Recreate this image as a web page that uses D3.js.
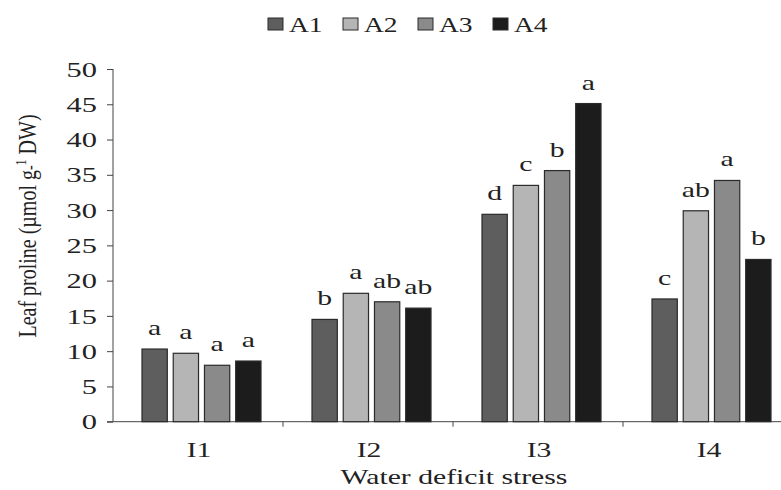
<!DOCTYPE html>
<html>
<head>
<meta charset="utf-8">
<script src="https://cdn.jsdelivr.net/npm/d3@7"></script>
<style>
  body { margin: 0; background: #fff; }
  svg { display: block; font-family: "Liberation Serif", "DejaVu Serif", serif; }
</style>
</head>
<body>
<svg width="781" height="490"></svg>
<script>
// data
const groups = ["I1", "I2", "I3", "I4"];
const series = ["A1", "A2", "A3", "A4"];
const A1 = [10.3, 14.5, 29.4, 17.4];
const A2 = [9.7, 18.2, 33.5, 29.9];
const A3 = [8.0, 17.0, 35.6, 34.2];
const A4 = [8.6, 16.1, 45.1, 23.0];
const letters = [
    ["a", "a", "a", "a"],
    ["b", "a", "ab", "ab"],
    ["d", "c", "b", "a"],
    ["c", "ab", "a", "b"]
];
const yTicks = [0, 5, 10, 15, 20, 25, 30, 35, 40, 45, 50];
const fills = ["#5e5e5e", "#b5b5b5", "#8a8a8a", "#1c1c1c"];

// the source figure has its text stretched sideways
const SX = 1.35;

const svg = d3.select("svg");
const values = [A1, A2, A3, A4];

/**
 * Put a text at (x, y) stretched horizontally by sx
 */
function place(sel, fx, fy, sx = SX){
    sel.attr("transform", function(d, i){
        return "translate(" + fx(d, i) + "," + fy(d, i) + ") scale(" + sx + ",1)";
    });
}

// rows per bar
const rows = [];
groups.forEach(function(g, gi){
    series.forEach(function(s, si){
        rows.push({group: g, series: s, value: values[si][gi], letter: letters[gi][si], si: si});
    });
});

const y = d3.scaleLinear().domain([0, 50]).range([421.7, 69]);
const x0 = d3.scaleBand().domain(groups).range([113, 793]).paddingInner(0).paddingOuter(0);
const x1 = d3.scaleBand().domain(series).range([29, x0.bandwidth() - 22]).paddingInner(0.19);

// y axis
const yAxis = svg.append("g")
    .attr("transform", "translate(113,0)")
    .call(d3.axisLeft(y).tickValues(yTicks).tickSize(6).tickPadding(9));
yAxis.select(".domain").attr("stroke", "#444").attr("d", "M0," + y(50) + "V" + y(0));
yAxis.selectAll(".tick line").attr("stroke", "#444");
yAxis.selectAll("text")
    .attr("x", 0).attr("dy", "0.34em")
    .attr("transform", "translate(-16,0) scale(1.45,1)")
    .attr("font-size", 21).attr("fill", "#222").attr("font-family", "Liberation Serif");

// x axis line and boundary ticks
svg.append("line")
    .attr("x1", 107).attr("x2", 781)
    .attr("y1", y(0)).attr("y2", y(0))
    .attr("stroke", "#444");
svg.selectAll(".gtick")
    .data(groups.slice(1))
    .enter().append("line")
    .attr("class", "gtick")
    .attr("x1", d => x0(d)).attr("x2", d => x0(d))
    .attr("y1", y(0)).attr("y2", y(0) + 5)
    .attr("stroke", "#444");

svg.selectAll(".glabel")
    .data(groups)
    .enter().append("text")
    .attr("class", "glabel")
    .attr("text-anchor", "middle")
    .attr("font-size", 22)
    .attr("fill", "#222")
    .text(d => d)
    .call(place, d => x0(d) + x0.bandwidth() / 2 + 1, () => 457);

// bars
svg.selectAll(".bar")
    .data(rows)
    .enter().append("rect")
    .attr("class", "bar")
    .attr("x", d => x0(d.group) + x1(d.series))
    .attr("y", d => y(d.value))
    .attr("width", x1.bandwidth())
    .attr("height", d => y(0) - y(d.value))
    .attr("fill", d => fills[d.si])
    .attr("stroke", "#2a2a2a")
    .attr("stroke-width", 1.2);

// significance letters
svg.selectAll(".sig")
    .data(rows)
    .enter().append("text")
    .attr("class", "sig")
    .attr("text-anchor", "middle")
    .attr("font-size", 22)
    .attr("fill", "#222")
    .text(d => d.letter)
    .call(place, d => x0(d.group) + x1(d.series) + x1.bandwidth() / 2, d => y(d.value) - 14);

// axis titles
svg.append("text")
    .attr("text-anchor", "middle")
    .attr("font-size", 22)
    .attr("fill", "#222")
    .text("Water deficit stress")
    .call(place, () => 454, () => 484);

const yt = svg.append("text")
    .attr("transform", "translate(36,226) rotate(-90) scale(1,1.3)")
    .attr("text-anchor", "middle")
    .attr("font-size", 20)
    .attr("fill", "#222");
yt.append("tspan").text("Leaf proline (µmol g");
yt.append("tspan").attr("font-size", 14).text("-");
yt.append("tspan").attr("dy", -8).attr("font-size", 12).text("1");
yt.append("tspan").attr("dy", 8).text(" DW)");

// legend
const legend = svg.selectAll(".leg")
    .data(series)
    .enter().append("g")
    .attr("class", "leg")
    .attr("transform", (d, i) => "translate(" + (268 + i * 75) + ",18)");
legend.append("rect")
    .attr("width", 15).attr("height", 12)
    .attr("fill", (d, i) => fills[i])
    .attr("stroke", "#2a2a2a");
legend.append("text")
    .attr("font-size", 22)
    .attr("fill", "#222")
    .text(d => d)
    .call(place, () => 21, () => 13.5, 1.25);
</script>
</body>
</html>
